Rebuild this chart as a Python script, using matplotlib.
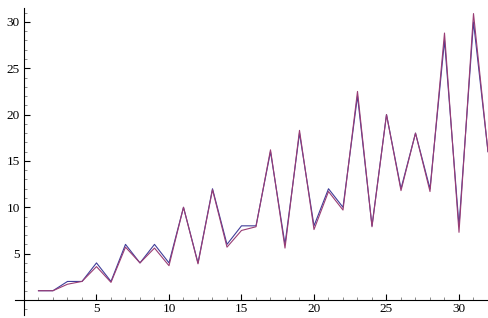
import numpy as np
import matplotlib
matplotlib.use("Agg")
import matplotlib.pyplot as plt
from matplotlib.ticker import MultipleLocator

# %% data

n = list(range(1, 33))
exact = [1, 1, 2, 2, 4, 2, 6, 4, 6, 4, 10, 4, 12, 6, 8, 8,
         16, 6, 18, 8, 12, 10, 22, 8, 20, 12, 18, 12, 28, 8, 30, 16]
approx = [1, 1, 1.7, 2, 3.6, 1.9, 5.7, 4, 5.6, 3.7, 10, 3.9, 11.9, 5.7, 7.5, 7.9,
          16.2, 5.6, 18.3, 7.6, 11.7, 9.7, 22.5, 7.9, 20, 11.8, 18, 11.7, 28.8, 7.3, 30.9, 16]

# %% figure

plt.rcParams['font.family'] = ['Liberation Serif', 'DejaVu Serif']

fig = plt.figure(figsize=(4.88, 3.18), dpi=100)
ax = fig.add_axes([15/488, 3/318, 1 - 15/488, 1 - 11/318])

ax.plot(n, exact, color=(0.25, 0.24, 0.6), lw=0.8)
ax.plot(n, approx, color=(0.6, 0.24, 0.46), lw=0.8)

ax.set_xlim(-0.62, 32.0)
ax.set_ylim(-1.62, 31.5)

for s in ['top', 'right']:
    ax.spines[s].set_visible(False)
ax.spines['left'].set_position(('data', 0))
ax.spines['bottom'].set_position(('data', 0))
for s in ['left', 'bottom']:
    ax.spines[s].set_linewidth(0.8)

ax.xaxis.set_minor_locator(MultipleLocator(1))
ax.yaxis.set_minor_locator(MultipleLocator(1))
ax.set_xticks([5, 10, 15, 20, 25, 30])
ax.set_yticks([5, 10, 15, 20, 25, 30])

ax.tick_params(which='major', direction='in', length=4, width=0.8, labelsize=9.5)
ax.tick_params(which='minor', direction='in', length=2.5, width=0.6, color='#777777')
ax.tick_params(axis='x', which='major', pad=2.5)
ax.tick_params(axis='y', which='major', pad=3)

fig.savefig('out.png', dpi=100)
